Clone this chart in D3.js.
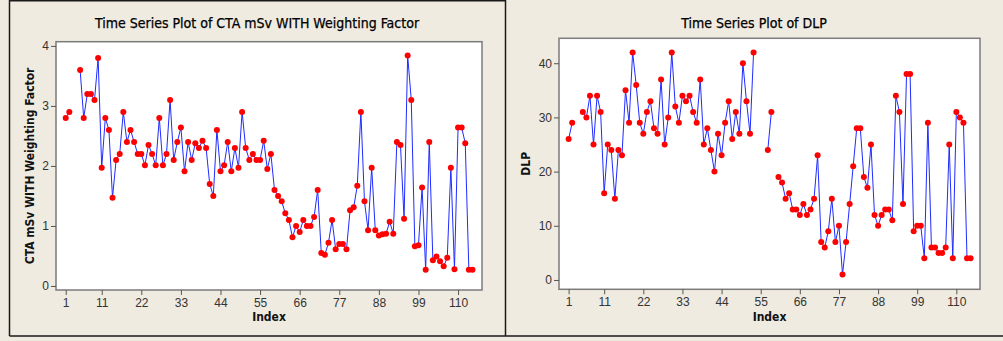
<!DOCTYPE html>
<html>
<head>
<meta charset="utf-8">
<script src="https://cdn.jsdelivr.net/npm/d3@7"></script>
<style>
  body { margin: 0; background: #efebe1; }
  svg { display: block; font-family: 'DejaVu Sans Condensed', 'DejaVu Sans', sans-serif; font-stretch: condensed; }
</style>
</head>
<body>
<svg id="chart" width="1003" height="341"></svg>
<script>
// tick labels
const indexTicks = [1, 11, 22, 33, 44, 55, 66, 77, 88, 99, 110]
const ctaTicks = [0, 1, 2, 3, 4]
const dlpTicks = [0, 10, 20, 30, 40]

// series, one value per index (null = missing)
const ctaMsv = [
  2.8, 2.9, null, null, 3.6, 2.8, 3.2, 3.2, 3.1, 3.8,
  1.97, 2.8, 2.6, 1.47, 2.1, 2.2, 2.9, 2.4, 2.6, 2.4,
  2.2, 2.2, 2.01, 2.35, 2.2, 2.01, 2.8, 2.01, 2.2, 3.1,
  2.1, 2.4, 2.64, 1.91, 2.4, 2.1, 2.38, 2.3, 2.42, 2.3,
  1.7, 1.5, 2.6, 1.91, 2.01, 2.4, 1.91, 2.3, 1.97, 2.9,
  2.3, 2.1, 2.2, 2.1, 2.1, 2.42, 1.95, 2.2, 1.6, 1.5,
  1.41, 1.21, 1.1, 0.81, 1.0, 0.9, 1.1, 1.0, 1.0, 1.15,
  1.6, 0.55, 0.52, 0.72, 1.1, 0.61, 0.7, 0.7, 0.61, 1.26,
  1.31, 1.67, 2.9, 1.41, 0.93, 1.97, 0.93, 0.84, 0.86, 0.87,
  1.07, 0.87, 2.4, 2.35, 1.12, 3.84, 3.1, 0.66, 0.68, 1.64,
  0.27, 2.4, 0.43, 0.49, 0.41, 0.33, 0.47, 1.97, 0.28, 2.64,
  2.64, 2.38, 0.27, 0.27
]

const dlp = [
  26, 29, null, null, 31, 30, 34, 25, 34, 31,
  16, 25, 24, 15, 24, 23, 35, 29, 42, 36,
  29, 27, 31, 33, 28, 27, 37, 25, 30, 42,
  32, 29, 34, 33, 34, 31, 29, 37, 25, 28,
  24, 20, 27, 23, 29, 33, 26, 31, 27, 40,
  33, 27, 42, null, null, null, 24, 31, null, 19,
  18, 15, 16, 13, 13, 12, 14, 12, 13, 15,
  23, 7, 6, 9, 15, 7, 10, 1, 7, 14,
  21, 28, 28, 19, 17, 25, 12, 10, 12, 13,
  13, 11, 34, 31, 14, 38, 38, 9, 10, 10,
  4, 29, 6, 6, 5, 5, 6, 25, 4, 31,
  30, 29, 4, 4
]

const svg = d3.select('#chart')

// panel borders
svg.append('path')
  .attr('d', 'M9.5,336 L9.5,0.75 L505.5,0.75 L505.5,336 M9.5,336 L1003,336')
  .attr('fill', 'none')
  .attr('stroke', '#1a1a1a')
  .attr('stroke-width', 1.5)

function drawPanel(cfg) {
  const g = svg.append('g')

  const x = d3.scaleLinear().domain([-1.7, 116.65]).range([cfg.left, cfg.right])
  const y = d3.scaleLinear().domain(cfg.yDomain).range([cfg.bottom, cfg.top])

  g.append('rect')
    .attr('x', cfg.left).attr('y', cfg.top)
    .attr('width', cfg.right - cfg.left).attr('height', cfg.bottom - cfg.top)
    .attr('fill', '#fff')
    .attr('stroke', '#7b7b7b')
    .attr('stroke-width', 1.5)

  const xAxis = g.append('g')
    .attr('transform', `translate(0,${cfg.bottom})`)
    .call(d3.axisBottom(x).tickValues(indexTicks).tickFormat(d3.format('d'))
      .tickSize(5).tickSizeOuter(0).tickPadding(3))
  const yAxis = g.append('g')
    .attr('transform', `translate(${cfg.left},0)`)
    .call(d3.axisLeft(y).tickValues(cfg.yTicks).tickFormat(d3.format('d'))
      .tickSize(5).tickSizeOuter(0).tickPadding(2))

  ;[xAxis, yAxis].forEach(a => {
    a.select('.domain').remove()
    a.selectAll('line').attr('stroke', '#555')
    a.selectAll('text')
      .attr('fill', '#333')
      .style('font-size', '12px')
      .style('font-family', null)
  })

  const pts = cfg.values.map((v, i) => ({ i: i + 1, v }))

  const line = d3.line()
    .defined(d => d.v != null)
    .x(d => x(d.i))
    .y(d => y(d.v))

  g.append('path')
    .datum(pts)
    .attr('d', line)
    .attr('fill', 'none')
    .attr('stroke', '#1f2cff')
    .attr('stroke-width', 1)

  g.append('g').selectAll('circle')
    .data(pts.filter(d => d.v != null))
    .enter().append('circle')
    .attr('cx', d => x(d.i))
    .attr('cy', d => y(d.v))
    .attr('r', 3)
    .attr('fill', '#ff0000')

  g.append('text')
    .attr('x', cfg.titleX).attr('y', 28)
    .attr('text-anchor', 'middle')
    .attr('fill', '#000')
    .style('font-size', '14px')
    .style('stroke', '#000')
    .style('stroke-width', 0.25)
    .text(cfg.title)

  g.append('text')
    .attr('x', (cfg.left + cfg.right) / 2).attr('y', 321)
    .attr('text-anchor', 'middle')
    .attr('fill', '#111')
    .style('font-size', '12px')
    .style('font-weight', 'bold')
    .text('Index')

  g.append('text')
    .attr('transform', `translate(${cfg.yLabelX},${(cfg.top + cfg.bottom) / 2}) rotate(-90)`)
    .attr('text-anchor', 'middle')
    .attr('fill', '#111')
    .style('font-size', '12px')
    .style('font-weight', 'bold')
    .text(cfg.yLabel)
}

drawPanel({
  left: 56, right: 482, top: 41.7, bottom: 290,
  yDomain: [-0.067, 4.07], yTicks: ctaTicks, values: ctaMsv,
  title: 'Time Series Plot of CTA mSv WITH Weighting Factor', titleX: 257,
  yLabel: 'CTA mSv WITH Weighting Factor', yLabelX: 34
})

drawPanel({
  left: 559, right: 980, top: 38.3, bottom: 289.3,
  yDomain: [-1.72, 44.6], yTicks: dlpTicks, values: dlp,
  title: 'Time Series Plot of DLP', titleX: 754,
  yLabel: 'DLP', yLabelX: 530
})
</script>
</body>
</html>
